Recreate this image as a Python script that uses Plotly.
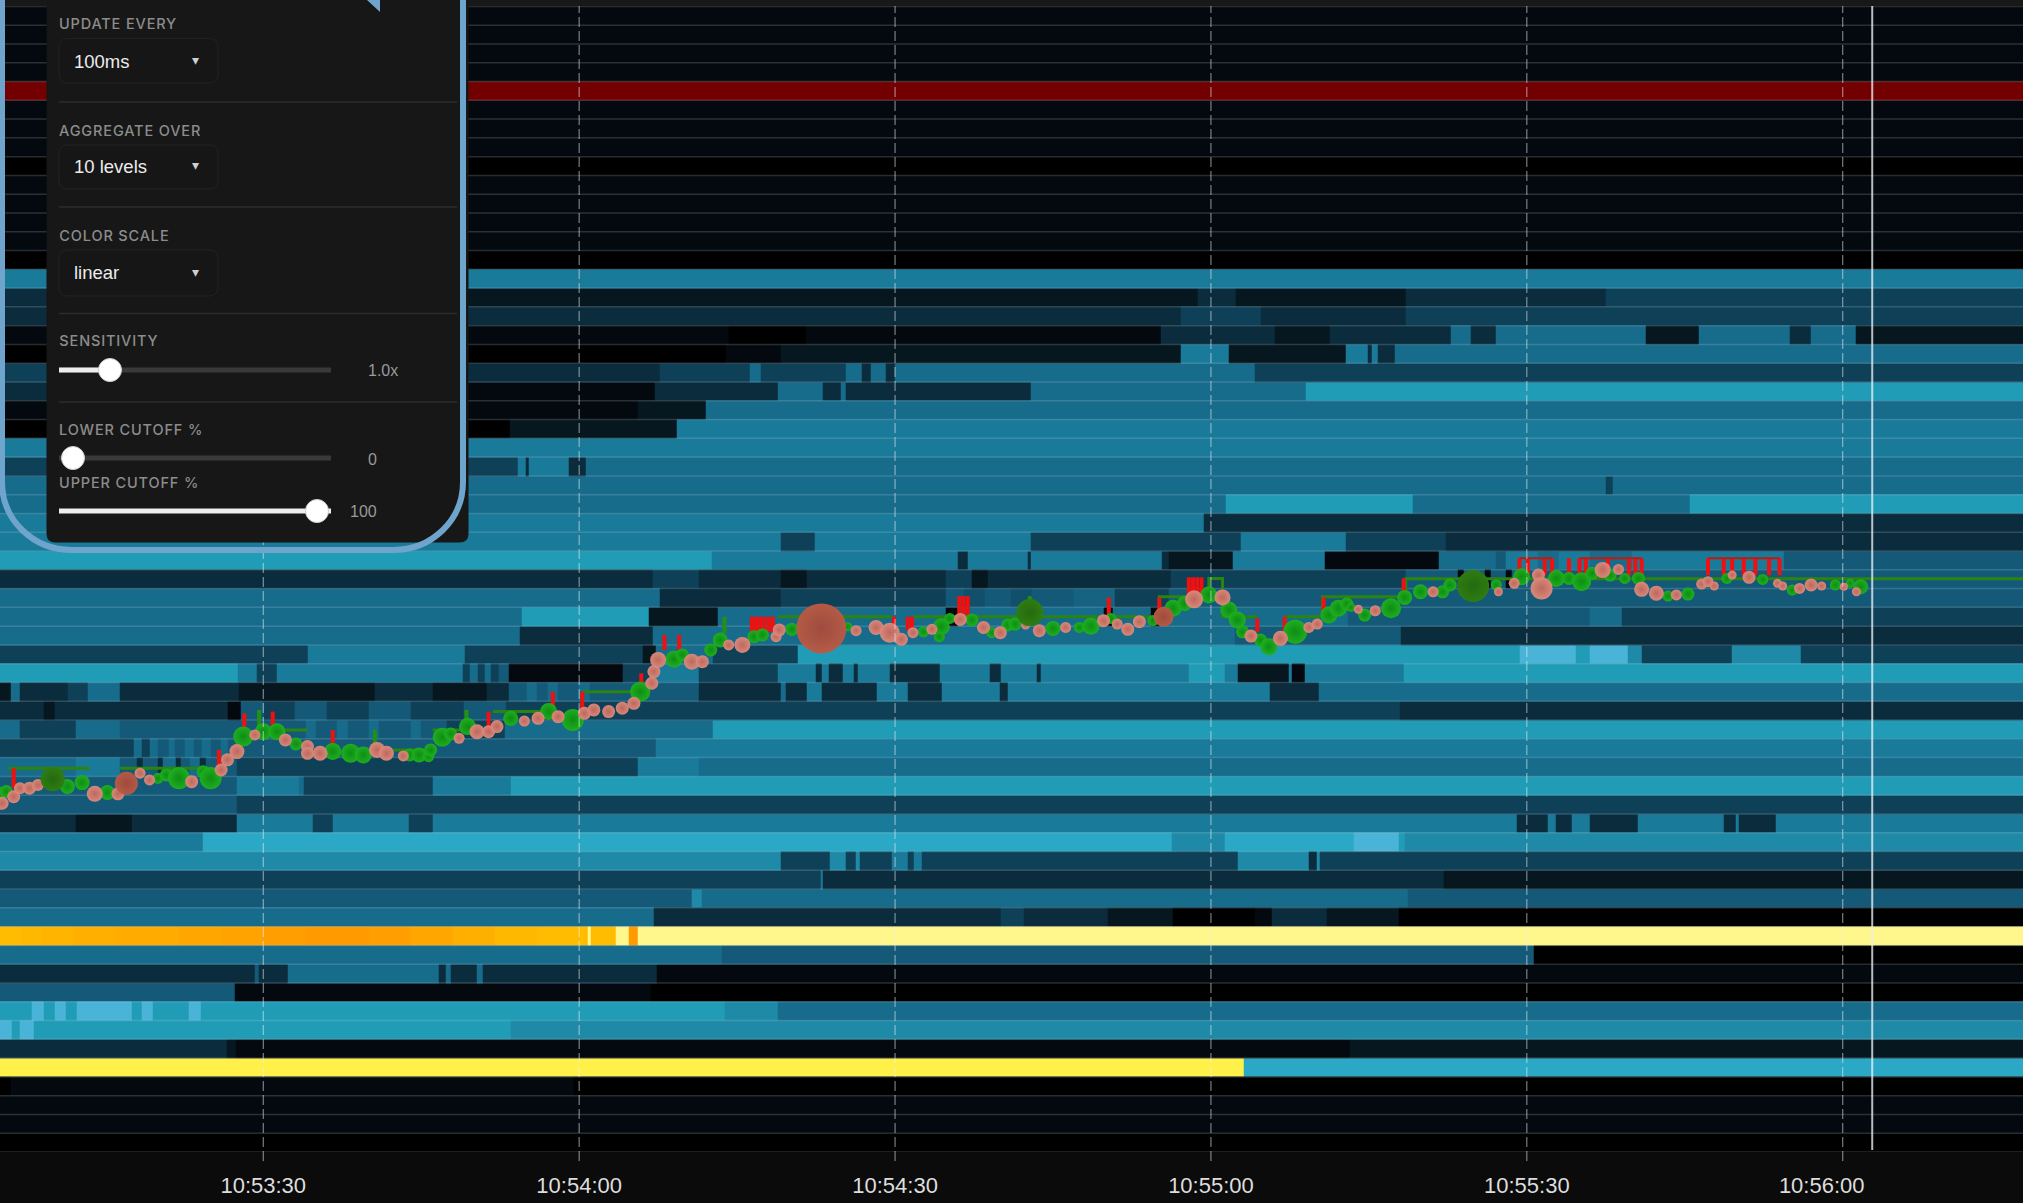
import plotly.graph_objects as go

# intensity levels of the depth heatmap
L0, L1, L2, L3, L4, L5, L6, L7, L8, L9, L10, L11 = 0.0, 0.04, 0.09, 0.14, 0.20, 0.27, 0.34, 0.41, 0.48, 0.55, 0.60, 0.65
ORG, ORG2, AMB, YEL, PAL, RED = 0.72, 0.74, 0.76, 0.82, 0.88, 1.0

color_stops = [
    [L0, "#000000"], [L1, "#03090e"], [L2, "#06171f"], [L3, "#0a2c3c"], [L4, "#0e4058"], [L5, "#145a78"],
    [L6, "#176c8c"], [L7, "#1a7a9a"], [L8, "#1f8aa8"], [L9, "#219cb6"], [L10, "#2aa8c6"], [L11, "#4ab4d8"],
    [ORG, "#ff9a00"], [AMB, "#ffbc00"], [YEL, "#fff14a"], [PAL, "#fff68c"], [0.92, "#fff68c"], [0.93, "#720000"], [RED, "#720000"],
]

# every row: (segment end in seconds after 10:53:00, level)
END = 198
r00 = [(END, L1)]
r01 = [(END, L1)]
r02 = [(END, L1)]
r03 = [(END, L1)]
r04 = [(END, RED)]
r05 = [(END, L1)]
r06 = [(END, L1)]
r07 = [(END, L1)]
r08 = [(END, L0)]
r09 = [(END, L1)]
r10 = [(END, L1)]
r11 = [(END, L1)]
r12 = [(END, L1)]
r13 = [(END, L0)]
r14 = [(END, L7)]
r15 = [(49, L3), (118.7, L2), (122.4, L3), (138.5, L2), (142.3, L3), (157.5, L3), (END, L4)]
r16 = [(117.1, L3), (124.7, L4), (138.5, L3), (END, L4)]
r17 = [(74.2, L1), (81.5, L0), (115.2, L1), (126.1, L3), (131.3, L2), (142.8, L3), (144.7, L6), (147, L3), (161.3, L6), (166.3, L2), (175, L6), (177, L3), (181.2, L6), (END, L2)]
r18 = [(73.9, L0), (79.1, L1), (117.1, L2), (121.7, L7), (132.8, L2), (134.9, L7), (135.3, L3), (135.8, L7), (137.5, L3), (END, L6)]
r19 = [(49, L4), (67.7, L3), (76.2, L4), (77.2, L6), (85.3, L4), (86.8, L6), (87.7, L3), (89.1, L6), (90, L3), (124.2, L6), (128, L4), (END, L4)]
r20 = [(49, L3), (67.2, L1), (78.9, L3), (83.1, L6), (84.8, L3), (85.3, L6), (102.9, L3), (129, L6), (END, L9)]
r21 = [(65.6, L1), (72, L2), (END, L6)]
r22 = [(53.4, L0), (69.3, L2), (END, L7)]
r23 = [(END, L7)]
r24 = [(54.2, L4), (54.9, L7), (55.2, L3), (59, L7), (60.6, L3), (END, L6)]
r25 = [(157.5, L6), (158.2, L4), (END, L6)]
r26 = [(121.4, L6), (139.2, L9), (165.5, L6), (END, L9)]
r27 = [(119.3, L7), (121.4, L3), (END, L3)]
r28 = [(79.1, L7), (82.4, L4), (102.9, L7), (122.8, L4), (132.8, L7), (142.3, L4), (172.5, L3), (END, L3)]
r29 = [(72.6, L9), (96, L7), (96.9, L3), (102.6, L7), (102.9, L3), (115.3, L7), (116, L3), (122.1, L2), (130.8, L7), (141.6, L1), (147, L6), (148, L5), (151, L7), (153, L6), (156, L7), (160, L6), (174.4, L7), (END, L5)]
r30 = [(67, L3), (71.4, L4), (79.1, L3), (81.6, L2), (94.8, L3), (97.3, L4), (98.8, L2), (116.2, L3), (138.5, L4), (143.4, L5), (144, L1), (146, L5), (146.6, L1), (148, L5), (148.6, L1), (END, L5)]
r31 = [(67.7, L6), (79.1, L3), (94.8, L4), (96.5, L5), (98.5, 0.24), (101, L5), (103, 0.24), (107, L5), (110.9, 0.3), (116, L4), (END, L5)]
r32 = [(54.5, L6), (66.6, L9), (73.2, L2), (94.8, L6), (96, L1), (109.8, L6), (110.7, L1), (114.3, L6), (115.1, L1), (133, L6), (156, L5), (159, L6), (END, L4)]
r33 = [(54.4, L6), (67, L3), (122.3, L6), (138, L5), (157, L3), (END, L3)]
r34 = [(34.2, L4), (49.1, L7), (66, L4), (67.3, L2), (72.7, L6), (80.8, L4), (149.3, L9), (154.6, L11), (156, L9), (159.6, L11), (160.9, L8), (169.5, L4), (176, L8), (END, L4)]
r35 = [(27.6, L9), (29.4, L7), (31.3, L4), (48.9, L7), (49.6, L4), (50.4, L6), (51, L4), (51.6, L6), (52.4, L4), (53.3, L5), (64.1, L1), (66.9, L4), (71.4, L7), (78.9, L4), (82.5, L7), (83, L3), (83.7, L7), (85, L3), (86.1, L7), (86.5, L3), (89.5, L7), (94.2, L3), (99, L7), (100, L3), (103.5, L7), (103.8, L3), (117.9, L7), (121.3, L9), (122.5, L7), (127.4, L2), (127.7, L7), (128.9, L1), (138.3, L7), (END, L9)]
r36 = [(6, L2), (6.9, L6), (11.4, L3), (13.3, L4), (16.4, L6), (27.7, L3), (40.6, L2), (46.1, L3), (51.2, L2), (53.3, L3), (55, L5), (56, L6), (57, L5), (58, L6), (60, L5), (61, L6), (63, L5), (71.4, L5), (79.1, L3), (79.6, L6), (81.6, L3), (83, L7), (88.3, L3), (91.2, L7), (94.4, L3), (99.9, L7), (100.7, L3), (125.6, L7), (130.2, L3), (END, L6)]
r37 = [(9.2, L3), (10.2, L2), (26.6, L3), (27.9, L1), (30, L5), (33, L4), (36, L5), (40, L4), (44, L5), (49, L4), (53, L5), (137.9, L4), (END, L3)]
r38 = [(6.9, L6), (12.2, L4), (16.4, L6), (34, L5), (35, L6), (37, L5), (38, L6), (40, L5), (41, L6), (44, L5), (45, L6), (47.4, L5), (52.9, L4), (72.7, L6), (END, L9)]
r39 = [(17.7, L4), (18.5, L6), (19.2, L4), (20, L6), (21, L5), (21.6, L6), (22.5, L5), (23.4, L6), (24.2, L5), (25, L6), (26, L5), (26.6, L6), (67.3, L5), (END, L7)]
r40 = [(12.2, L6), (16.4, L7), (18, L5), (18.6, L3), (20, L5), (20.5, L3), (21.7, L6), (22.2, L3), (23, L5), (24, L6), (24.5, L3), (27.5, L5), (65.6, L4), (71.4, L7), (END, L6)]
r41 = [(27.5, L5), (33.4, L7), (33.8, L6), (46.1, L4), (53.5, L7), (END, L9)]
r42 = [(27.5, L5), (END, L4)]
r43 = [(12.2, L3), (17.5, L2), (27.5, L3), (34.7, L7), (36.6, L4), (43.8, L7), (46.1, L4), (149, L7), (152, L3), (152.7, L7), (154.3, L3), (156, L7), (160.5, L3), (168.7, L7), (169.8, L3), (170.1, L7), (173.6, L3), (END, L7)]
r44 = [(24.3, L7), (116.3, L10), (121.3, L8), (133.6, L10), (137.8, L11), (138.4, L9), (END, L8)]
r45 = [(79.1, L8), (83.8, L4), (85.3, L8), (86.3, L4), (86.6, L8), (89.7, L4), (91.2, L7), (91.8, L4), (92.5, L7), (122.5, L4), (129.3, L8), (130, L3), (130.3, L8), (END, L4)]
r46 = [(82.9, L4), (83.1, L7), (142.1, L3), (157.2, L2), (END, L2)]
r47 = [(70.7, L5), (71.6, L8), (138.7, L6), (END, L5)]
r48 = [(67.1, L6), (100, L3), (102.2, L4), (110.2, L3), (116.4, L2), (124.2, L0), (125.8, L1), (131, L3), (137.8, L2), (END, L0)]
r49 = [(7, 0.76), (9, 0.755), (12, 0.75), (16, 0.745), (22, 0.74), (26, 0.735), (30, 0.73), (34, 0.725), (40, 0.72), (44, 0.725), (48, 0.735), (52, 0.745), (56, 0.755), (60.8, 0.76), (61.1, PAL), (63.5, AMB), (64.7, PAL), (65.6, ORG), (END, PAL)]
r50 = [(73.5, L6), (150.7, L5), (END, L0)]
r51 = [(29.2, L3), (29.6, L5), (32.3, L3), (46.7, L6), (47.3, L3), (47.8, L6), (48.5, L3), (50.3, L3), (50.8, L6), (67.4, L3), (END, L1)]
r52 = [(27.3, L5), (66.8, L1), (END, L0)]
r53 = [(8, L9), (9.2, L11), (10.2, L9), (11.2, L11), (12.3, L9), (17.5, L11), (18.5, L9), (19.5, L11), (22.9, L9), (24.1, L11), (73.8, L9), (78.9, L8), (END, L6)]
r54 = [(6.1, L11), (6.9, L9), (8.2, L11), (53.5, L9), (END, L8)]
r55 = [(26.5, L3), (27.4, L2), (133.2, L1), (END, L2)]
r56 = [(123.1, YEL), (END, L10)]
r57 = [(6, L0), (59.5, L1), (END, L0)]
r58 = [(END, L1)]
r59 = [(END, L1)]
r60 = [(END, L0)]
rows = [r00, r01, r02, r03, r04, r05, r06, r07, r08, r09, r10, r11, r12, r13, r14, r15, r16, r17, r18, r19,
        r20, r21, r22, r23, r24, r25, r26, r27, r28, r29, r30, r31, r32, r33, r34, r35, r36, r37, r38, r39,
        r40, r41, r42, r43, r44, r45, r46, r47, r48, r49, r50, r51, r52, r53, r54, r55, r56, r57, r58, r59, r60]

# executed trades: time (seconds after 10:53:00), level (row units), size
buy_t = [5.0, 5.6, 11.4, 12.8, 15.2, 20.0, 20.8, 22.0, 24.3, 25.0, 28.1, 30.0, 31.3, 33.1, 36.6, 38.3, 39.5, 43.9, 44.8, 45.7, 45.9, 47.0, 47.8, 49.4, 53.5, 57.1, 59.4, 65.8, 69.0, 69.8,
         72.5, 73.4, 76.6, 77.4, 80.2, 85.5, 92.7, 94.4, 94.2, 95.2, 97.3, 99.2, 100.7, 101.4, 105.0, 107.5, 108.6, 110.5, 114.5, 116.4, 117.5, 119.8, 121.7, 122.5, 123.0, 124.7, 125.5, 128.0, 131.2, 132.1, 132.9,
         133.3, 134.6, 137.1, 138.4, 139.9, 142.0, 142.7, 147.1, 149.5, 152.8, 154.0, 155.2, 156.2, 157.9, 159.3, 160.6, 163.4, 165.3, 169.0, 172.4, 175.2, 179.3, 180.7, 181.7]
buy_y = [41.90, 41.81, 41.54, 41.33, 41.86, 41.10, 40.92, 41.10, 40.75, 41.10, 38.88, 38.62, 38.62, 39.27, 39.68, 39.77, 39.86, 39.86, 39.86, 39.95, 39.59, 38.92, 38.74, 38.35, 37.91, 37.55, 38.00, 36.49, 34.76, 34.53,
         34.27, 33.74, 33.56, 33.47, 33.17, 33.03, 33.30, 33.03, 33.56, 32.59, 32.67, 33.35, 32.94, 32.89, 33.12, 33.07, 33.00, 32.59, 32.71, 32.05, 31.79, 31.34, 32.14, 32.67, 33.30, 33.74, 34.10, 33.30, 32.41, 32.05, 31.82,
         32.00, 32.41, 32.05, 31.47, 31.17, 31.17, 30.81, 30.81, 30.37, 30.46, 30.46, 30.63, 30.19, 30.28, 30.46, 30.46, 31.40, 31.29, 30.46, 30.51, 31.08, 30.81, 30.72, 30.90]
buy_size = [13, 13, 15, 15, 15, 11, 13, 22, 13, 22, 20, 17, 17, 13, 17, 19, 17, 13, 15, 11, 13, 19, 13, 17, 15, 17, 22, 20, 17, 13,
            13, 15, 13, 13, 13, 9, 11, 17, 11, 11, 13, 11, 13, 13, 15, 11, 17, 11, 11, 17, 15, 17, 17, 17, 13, 13, 17, 24, 17, 17, 13,
            9, 13, 20, 15, 15, 13, 13, 11, 17, 17, 13, 19, 13, 13, 11, 13, 11, 13, 11, 11, 11, 11, 9, 15]
sell_t = [5.2, 6.3, 6.9, 7.8, 8.6, 14.0, 16.2, 18.3, 19.2, 23.2, 26.0, 26.6, 27.5, 29.2, 32.1, 34.2, 34.2, 35.4, 40.8, 41.7, 43.3, 48.6, 50.3, 51.4, 52.2, 54.8, 56.1, 58.0, 60.5, 61.4, 62.8, 64.1, 65.2, 66.9, 67.1, 67.5, 70.7,
          71.7, 74.2, 75.5, 78.7, 79.0, 86.3, 88.2, 89.5, 90.6, 91.7, 93.5, 96.2, 98.4, 100.0, 102.4, 103.7, 106.2, 109.8, 111.1, 112.1, 113.2, 118.4, 121.1, 123.8, 126.6, 129.3, 130.1,
          134.0, 135.6, 141.1, 147.3, 148.8, 151.1, 151.4, 157.2, 158.7, 160.9, 162.3, 164.2, 166.6, 167.2, 167.8, 169.5, 171.1, 173.8, 174.3, 175.9, 177.0, 178.0, 180.1, 181.3]
sell_y = [42.43, 42.08, 41.63, 41.63, 41.46, 41.93, 41.93, 40.83, 41.19, 41.28, 40.66, 40.12, 39.68, 38.79, 39.06, 39.41, 39.77, 39.77, 39.59, 39.77, 39.91, 38.97, 38.62, 38.62, 38.35, 38.05, 37.91, 37.82, 37.64, 37.46, 37.55, 37.37, 37.11, 36.04, 35.42, 34.80, 34.89,
          34.89, 34.00, 34.00, 33.56, 33.20, 33.24, 33.07, 33.35, 33.70, 33.35, 33.17, 32.64, 33.07, 33.35, 32.94, 33.24, 33.07, 32.71, 32.89, 33.17, 32.76, 31.57, 31.47, 33.53, 33.65, 33.07, 32.89,
          32.10, 32.18, 31.17, 31.17, 30.72, 30.28, 30.99, 30.01, 29.98, 31.04, 31.25, 31.34, 30.76, 30.63, 30.86, 30.28, 30.40, 30.72, 30.86, 30.99, 30.81, 30.86, 30.90, 31.17]
sell_size = [13, 13, 12, 13, 12, 16, 13, 11, 11, 13, 13, 13, 15, 11, 13, 13, 13, 15, 16, 15, 11, 11, 15, 13, 13, 11, 13, 13, 13, 13, 13, 13, 13, 13, 13, 16, 16,
             13, 11, 16, 11, 13, 11, 15, 20, 13, 11, 11, 13, 13, 13, 9, 13, 11, 13, 11, 13, 13, 18, 16, 13, 15, 11, 11,
             9, 11, 11, 9, 11, 13, 22, 16, 11, 15, 15, 11, 11, 11, 9, 9, 13, 9, 9, 11, 13, 9, 8, 9]
large_buy_t = [10.0, 102.8, 144.9]
large_buy_y = [41.15, 32.28, 30.86]
large_buy_size = [24, 27, 32]
large_sell_t = [17.0, 83.0, 115.5]
large_sell_y = [41.37, 33.12, 32.50]
large_sell_size = [23, 50, 20]

# best bid step line, broken where it is absent
bid_t = [5.8, 13.5, None, 16.4, 25.3, None, 31.7, 34.2, None, 42.3, 45.7, None, 46.1, 49.1, None, 51.8, 57.1, None, 60.3, 65.2, None, 78.9, 89.7, None,
         91.8, 115.1, 115.1, 119.8, 119.8, 121.1, 121.1, 124.4, None, 127, 130.6, 130.6, 138.5, 138.5, 197.2]
bid_y = [40.57, 40.57, None, 40.57, 40.57, None, 38.53, 38.53, None, 39.59, 39.59, None, 38.53, 38.53, None, 37.55, 37.55, None, 36.49, 36.49, None, 32.5, 32.5, None,
         32.5, 32.5, 31.43, 31.43, 30.46, 30.46, 32.5, 32.5, None, 32.5, 32.5, 31.43, 31.43, 30.47, 30.47]

# spikes: time, top, bottom
ask_spike_t = [6.3, 25.8, 28.2, 30.9, 36.6, 51.4, 57.5, 60.3, 65.9, 68.1, 69.5, 76.4, 76.8, 77.2, 77.6, 78.0, 78.4, 89.9, 91.2, 91.6, 96.1, 96.5, 96.9, 110.3, 115.1, 117.9, 118.3, 118.7, 119.1, 124.4, 127.0, 130.7, 138.3,
               149.3, 150.1, 151.7, 152.4, 154.0, 155.0, 155.6, 157.7, 159.7, 160.3, 160.9, 167.2, 168.7, 169.5, 170.6, 171.7, 173.0, 174.0]
ask_spike_top = [40.57, 39.59, 37.64, 37.55, 38.53, 37.55, 36.49, 36.49, 35.51, 33.47, 33.47, 32.5, 32.5, 32.5, 32.5, 32.5, 32.5, 32.5, 32.5, 32.5, 31.4, 31.4, 31.4, 31.47, 31.47, 30.4, 30.4, 30.4, 30.4, 32.59, 32.5, 31.47, 30.46,
                 29.39, 29.39, 29.39, 29.39, 29.39, 29.39, 29.39, 29.39, 29.39, 29.39, 29.39, 29.39, 29.39, 29.39, 29.39, 29.39, 29.39, 29.39]
ask_spike_bot = [41.63, 40.66, 38.53, 38.44, 39.41, 38.44, 37.46, 37.46, 36.22, 34.27, 34.27, 33.3, 33.3, 33.3, 33.3, 33.3, 33.3, 33.2, 33.2, 33.2, 32.41, 32.41, 32.41, 32.41, 32.14, 31.29, 31.29, 31.29, 31.29, 33.3, 33.38, 32.14, 31.17,
                 30.28, 30.28, 30.28, 30.28, 30.28, 30.28, 30.28, 30.28, 30.28, 30.28, 30.28, 30.28, 30.28, 30.28, 30.28, 30.28, 30.28, 30.28]
ask_top_t = [149.3, 152.4, None, 155.0, 160.9, None, 167.2, 174.0]
ask_top_y = [29.39, 29.39, None, 29.39, 29.39, None, 29.39, 29.39]
bid_spike_t = [29.6, 40.6, 49.3, 102.8, 73.8]
bid_spike_top = [37.46, 38.53, 37.46, 31.4, 32.5]
bid_spike_bot = [38.62, 39.41, 38.35, 32.28, 33.38]

tick_seconds = [30, 60, 90, 120, 150, 180]
tick_label_seconds = [30, 60, 90, 120, 150, 178]
tick_labels = ["10:53:30", "10:54:00", "10:54:30", "10:55:00", "10:55:30", "10:56:00"]
current_time = 182.8

# ---------------------------------------------------------------- build
W, H = 2023, 1203
x_edges = sorted({4.5} | {e for row in rows for e, _ in row})
def row_values(row):
    out, i = [], 0
    for a in x_edges[1:]:
        while row[i][0] < a:
            i += 1
        out.append(row[i][1])
    return out
z = [row_values(r) for r in rows]
n_rows = len(rows)

def spikes(t, top, bot):
    xs, ys = [], []
    for a, b, c in zip(t, top, bot):
        xs += [a, a, None]
        ys += [b, c, None]
    return xs, ys

fig = go.Figure()
fig.add_trace(go.Heatmap(x=x_edges, y=list(range(n_rows + 1)), z=z, zmin=0, zmax=1, colorscale=color_stops, showscale=False, hoverinfo="skip"))
sep_x, sep_y = [], []
for k in range(n_rows + 1):
    sep_x += [4.5, END, None]
    sep_y += [k, k, None]
fig.add_trace(go.Scatter(x=sep_x, y=sep_y, mode="lines", line=dict(color="rgba(195,210,220,0.2)", width=1.5), hoverinfo="skip"))
fig.add_trace(go.Scatter(x=bid_t, y=bid_y, mode="lines", line=dict(color="#2a8410", width=3), hoverinfo="skip"))
bx, by = spikes(bid_spike_t, bid_spike_top, bid_spike_bot)
fig.add_trace(go.Scatter(x=bx, y=by, mode="lines", line=dict(color="#23900f", width=4), hoverinfo="skip"))
ax, ay = spikes(ask_spike_t, ask_spike_top, ask_spike_bot)
fig.add_trace(go.Scatter(x=ax, y=ay, mode="lines", line=dict(color="#f01010", width=4), hoverinfo="skip"))
fig.add_trace(go.Scatter(x=ask_top_t, y=ask_top_y, mode="lines", line=dict(color="#c01a10", width=2), hoverinfo="skip"))

def balls(t, y, s, center, edge):
    fig.add_trace(go.Scatter(x=t, y=y, mode="markers", hoverinfo="skip",
                             marker=dict(size=s, color=center, line=dict(width=0), opacity=0.97,
                                         gradient=dict(type="radial", color=edge))))
balls(buy_t, buy_y, buy_size, "#1fb01f", "#0e8f10")
balls(sell_t, sell_y, sell_size, "#dc8a7c", "#c4685c")
balls(large_buy_t, large_buy_y, large_buy_size, "#2f7d10", "#256a0c")
balls(large_sell_t, large_sell_y, large_sell_size, "#b95a44", "#a34a3c")

# ---------------------------------------------------------------- page chrome
def X(p): return p / W
def Y(p): return 1 - p / H
shapes, notes = [], []
PANEL, BLUE, DIV = "#171717", "#6fa5cc", "#2c2c2c"
TRACKING = 0.85

def rrect(x0, y0, x1, y1, r, fill, stroke=None):
    p = (f"M {X(x0+r)} {Y(y0)} L {X(x1-r)} {Y(y0)} Q {X(x1)} {Y(y0)} {X(x1)} {Y(y0+r)} "
         f"L {X(x1)} {Y(y1-r)} Q {X(x1)} {Y(y1)} {X(x1-r)} {Y(y1)} L {X(x0+r)} {Y(y1)} "
         f"Q {X(x0)} {Y(y1)} {X(x0)} {Y(y1-r)} L {X(x0)} {Y(y0+r)} Q {X(x0)} {Y(y0)} {X(x0+r)} {Y(y0)} Z")
    shapes.append(dict(type="path", path=p, xref="paper", yref="paper", fillcolor=fill,
                       line=dict(color=stroke or fill, width=1), layer="above"))

def hbar(x0, x1, y, color, w):
    shapes.append(dict(type="line", xref="paper", yref="paper", x0=X(x0), x1=X(x1), y0=Y(y), y1=Y(y),
                       line=dict(color=color, width=w), layer="above"))

def knob(cx, cy, r=11.5):
    shapes.append(dict(type="circle", xref="paper", yref="paper", x0=X(cx-r), x1=X(cx+r), y0=Y(cy-r), y1=Y(cy+r),
                       fillcolor="#ffffff", line=dict(color="#cfcfcf", width=1), layer="above"))

def label(x, y, text, size, color, anchor="left", family="Inter, Liberation Sans, sans-serif", weight=None):
    f = dict(size=size, color=color, family=family)
    if weight: f["weight"] = weight
    notes.append(dict(xref="paper", yref="paper", x=X(x), y=Y(y), text=text, showarrow=False,
                      xanchor=anchor, yanchor="middle", font=f, borderpad=0, borderwidth=0))

# top strip
shapes.append(dict(type="rect", xref="paper", yref="paper", x0=0, x1=1, y0=Y(6), y1=1, fillcolor="#181818", line=dict(width=0), layer="above"))
# dashed time gridlines and current-time line
for s in tick_seconds:
    shapes.append(dict(type="line", xref="x", yref="paper", x0=s, x1=s, y0=Y(1161), y1=Y(6),
                       line=dict(color="rgba(235,240,245,0.62)", width=1, dash="10px,4px"), layer="above"))
shapes.append(dict(type="line", xref="x", yref="paper", x0=current_time, x1=current_time, y0=Y(1150), y1=Y(6),
                   line=dict(color="rgba(235,240,245,0.78)", width=2), layer="above"))
# panel
rrect(47, -10, 468, 542, 8, PANEL)
# blue frame over the panel edge
frame = (f"M {X(2)} {Y(0)} L {X(2)} {Y(482)} C {X(2)} {Y(520)} {X(33)} {Y(550)} {X(72)} {Y(550)} L {X(393)} {Y(550)} "
         f"C {X(432)} {Y(550)} {X(463)} {Y(520)} {X(463)} {Y(482)} L {X(463)} {Y(0)}")
shapes.append(dict(type="path", path=frame, xref="paper", yref="paper", line=dict(color=BLUE, width=6), layer="above"))
shapes.append(dict(type="path", path=f"M {X(367)} {Y(0)} L {X(380)} {Y(0)} L {X(380)} {Y(12)} Z", xref="paper", yref="paper",
                   fillcolor=BLUE, line=dict(width=0), layer="above"))

LAB = "#8c8c8c"
for y, t in [(24, "UPDATE EVERY"), (130, "AGGREGATE OVER"), (235, "COLOR SCALE"), (341, "SENSITIVITY"), (429, "LOWER CUTOFF %"), (483, "UPPER CUTOFF %")]:
    label(59 + TRACKING * len(t) / 2, y, t, 14.5, LAB, weight=500)
for y0, y1, ty, t in [(38.5, 83, 61, "100ms"), (145, 189, 166.5, "10 levels"), (250, 296, 272.5, "linear")]:
    rrect(59, y0, 218, y1, 9, "#161616", "#222222")
    label(74, ty, t, 18.5, "#ececec", family="Liberation Sans, Arial, sans-serif")
    label(195, ty - 1, "▾", 14, "#cfcfcf", anchor="center", family="DejaVu Sans")
for y in (102, 207, 313.5, 402):
    hbar(59, 457, y, DIV, 1.5)
# sliders
hbar(59, 331, 370, "#3a3a3a", 5)
hbar(59, 110, 370, "#eeeeee", 5)
knob(110, 370)
label(368, 370, "1.0x", 16, "#9a9a9a", family="Liberation Sans, Arial, sans-serif")
hbar(59, 331, 458, "#3a3a3a", 5)
knob(73, 458)
label(372, 459, "0", 16, "#9a9a9a", anchor="center", family="Liberation Sans, Arial, sans-serif")
hbar(59, 331, 511, "#eeeeee", 5)
knob(317, 511)
label(377, 511.5, "100", 16, "#9a9a9a", anchor="right", family="Liberation Sans, Arial, sans-serif")

x_lo = 5 + 0 / 10.53
x_hi = 5 + W / 10.53
fig.update_layout(
    width=W, height=H, margin=dict(l=0, r=0, t=0, b=0), showlegend=False,
    paper_bgcolor="#0b0b0b", plot_bgcolor="#000000",
    xaxis=dict(range=[x_lo, x_hi], showgrid=False, zeroline=False, showline=False, ticks="",
               tickmode="array", tickvals=tick_label_seconds, ticktext=tick_labels, ticklabelstandoff=18,
               tickfont=dict(size=22, color="#dddddd", family="Liberation Sans, Arial, sans-serif")),
    yaxis=dict(range=[n_rows, -0.34], domain=[(H - 1152) / H, 1], visible=False),
    shapes=shapes, annotations=notes,
)
spacing = ("document.body.style.margin='0';document.body.style.overflow='hidden';"
           "document.querySelectorAll('.annotation-text').forEach(function(e){"
           "if(/^[A-Z %]+$/.test(e.textContent)){e.style.letterSpacing='" + str(TRACKING) + "px';}});")
fig.write_html("out.html", config={"displayModeBar": False}, post_script=spacing)
